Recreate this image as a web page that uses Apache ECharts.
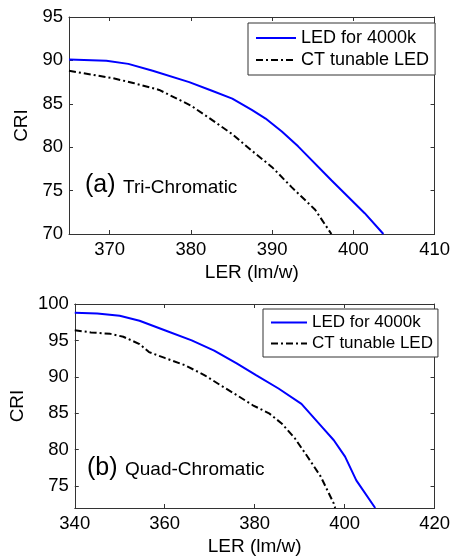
<!DOCTYPE html>
<html>
<head>
<meta charset="utf-8">
<script src="https://cdn.jsdelivr.net/npm/echarts@6/dist/echarts.min.js"></script>
<style>
  html, body, #main { margin: 0; padding: 0; width: 100%; height: 100%; overflow: hidden; background: #fff; }
</style>
</head>
<body>
<div id="main"></div>
<script>
// (a) Tri-Chromatic, [LER, CRI]
var triLed = [[365, 90.1], [369.6, 89.95], [372.3, 89.6], [375.3, 88.8], [379.8, 87.5], [382.6, 86.5],
  [385.1, 85.6], [387.5, 84.3], [389.2, 83.3], [391.2, 81.8], [393.2, 80.1], [397.3, 76.2],
  [401.4, 72.4], [403.7, 70.0]];
var triCt = [[365, 88.8], [370.4, 87.95], [372.9, 87.4], [376.1, 86.6], [380, 84.8], [382.2, 83.4],
  [385.1, 81.5], [387.5, 79.6], [390, 77.7], [392.4, 75.4], [395.3, 72.8], [397.3, 70.0]];

// (b) Quad-Chromatic
var quadLed = [[340, 98.8], [345, 98.7], [350, 98.4], [354.4, 97.7], [360, 96.4], [366, 95.0],
  [371, 93.6], [376, 91.85], [380.3, 90.25], [385.3, 88.4], [390.4, 86.3], [395, 83.1],
  [397.6, 81.3], [400.1, 79.05], [402.6, 75.8], [406.8, 72.0]];
var quadCt = [[340, 96.4], [343.6, 96.1], [347.9, 95.9], [350.8, 95.5], [354.4, 94.5], [356.5, 93.4],
  [360, 92.6], [364.5, 91.6], [368.8, 90.25], [372.4, 88.85], [376, 87.5], [379.6, 86.1],
  [383.2, 85.0], [386, 83.6], [388.9, 81.6], [391.8, 79.0], [394.7, 76.3], [397.6, 72.6], [397.9, 72.0]];

// tick labels
var triXTicks = [370, 380, 390, 400, 410];
var triYTicks = [70, 75, 80, 85, 90, 95];
var quadXTicks = [340, 360, 380, 400, 420];
var quadYTicks = [75, 80, 85, 90, 95, 100];

var seriesNames = ["LED for 4000k", "CT tunable LED"];

var FONT = '"Liberation Sans", Arial, sans-serif';
var AXIS_COLOR = "#333";

function xAxisOf(grid, min, max, ticks, top) {
  return {
    type: "value", gridIndex: grid, min: min, max: max,
    position: top ? "top" : "bottom",
    name: top ? "" : "LER (lm/w)", nameLocation: "middle", nameGap: 29,
    nameTextStyle: { fontSize: 19, color: "#000", fontFamily: FONT },
    axisLine: { show: true, onZero: false, lineStyle: { color: AXIS_COLOR, width: 1 } },
    axisTick: { show: true, inside: true, length: 4, customValues: ticks, lineStyle: { color: AXIS_COLOR } },
    axisLabel: { show: !top, customValues: ticks, margin: 6, fontSize: 18.5, color: "#000", fontFamily: FONT },
    splitLine: { show: false },
  };
}

function yAxisOf(grid, min, max, ticks, right, gap) {
  return {
    type: "value", gridIndex: grid, min: min, max: max,
    position: right ? "right" : "left",
    name: right ? "" : "CRI", nameLocation: "middle", nameGap: gap, nameRotate: 90,
    nameTextStyle: { fontSize: 19, color: "#000", fontFamily: FONT },
    axisLine: { show: true, onZero: false, lineStyle: { color: AXIS_COLOR, width: 1 } },
    axisTick: { show: true, inside: true, length: 4, customValues: ticks, lineStyle: { color: AXIS_COLOR } },
    axisLabel: { show: !right, customValues: ticks, margin: 6, fontSize: 18.5, color: "#000", fontFamily: FONT },
    splitLine: { show: false },
  };
}

function lineSeries(name, data, grid, dashed) {
  return {
    name: name, type: "line", data: data,
    xAxisIndex: grid * 2, yAxisIndex: grid * 2,
    symbol: "none", showSymbol: false, smooth: false, animation: false,
    lineStyle: dashed
      ? { color: "#000", width: 2, type: [7, 3, 2, 3] }
      : { color: "#0000ff", width: 2 },
    itemStyle: { color: dashed ? "#000" : "#0000ff" },
  };
}

function legendOf(left, top, fontSize, lineH, iconW, pad) {
  return {
    orient: "vertical", left: left, top: top,
    data: seriesNames,
    itemWidth: iconW, itemHeight: lineH, itemGap: 2,
    padding: pad,
    borderColor: "#333", borderWidth: 1, borderRadius: 0,
    backgroundColor: "#fff",
    selectedMode: false,
    // line only, no marker in the legend
    itemStyle: { opacity: 0 },
    lineStyle: { width: 2 },
    textStyle: { fontSize: fontSize, lineHeight: lineH, color: "#000", fontFamily: FONT },
  };
}

var myChart = echarts.init(document.getElementById("main"));
myChart.setOption({
  animation: false,
  backgroundColor: "#fff",
  grid: [
    { left: 69, right: 16, top: 17, height: 217 },
    { left: 67, right: 16, top: 304, height: 204 },
  ],
  xAxis: [
    xAxisOf(0, 365, 410, triXTicks, false),
    xAxisOf(0, 365, 410, triXTicks, true),
    xAxisOf(1, 340, 420, quadXTicks, false),
    xAxisOf(1, 340, 420, quadXTicks, true),
  ],
  yAxis: [
    yAxisOf(0, 70, 95, triYTicks, false, 35),
    yAxisOf(0, 70, 95, triYTicks, true, 0),
    yAxisOf(1, 72, 100, quadYTicks, false, 42),
    yAxisOf(1, 72, 100, quadYTicks, true, 0),
  ],
  legend: [
    legendOf(248, 23, 18, 20, 40, [5, 6, 5, 7]),
    legendOf(263, 309, 17, 19, 36, [4, 5, 4, 7]),
  ],
  graphic: [
    { type: "text", x: 85, y: 185, style: { text: "(a)", fontSize: 25, fontFamily: FONT, fill: "#000", verticalAlign: "middle" } },
    { type: "text", x: 123, y: 188, style: { text: "Tri-Chromatic", fontSize: 19, fontFamily: FONT, fill: "#000", verticalAlign: "middle" } },
    { type: "text", x: 87, y: 468, style: { text: "(b)", fontSize: 25, fontFamily: FONT, fill: "#000", verticalAlign: "middle" } },
    { type: "text", x: 125, y: 470, style: { text: "Quad-Chromatic", fontSize: 19, fontFamily: FONT, fill: "#000", verticalAlign: "middle" } },
  ],
  series: [
    lineSeries(seriesNames[0], triLed, 0, false),
    lineSeries(seriesNames[1], triCt, 0, true),
    lineSeries(seriesNames[0], quadLed, 1, false),
    lineSeries(seriesNames[1], quadCt, 1, true),
  ],
});

window.onresize = myChart.resize;
</script>
</body>
</html>
